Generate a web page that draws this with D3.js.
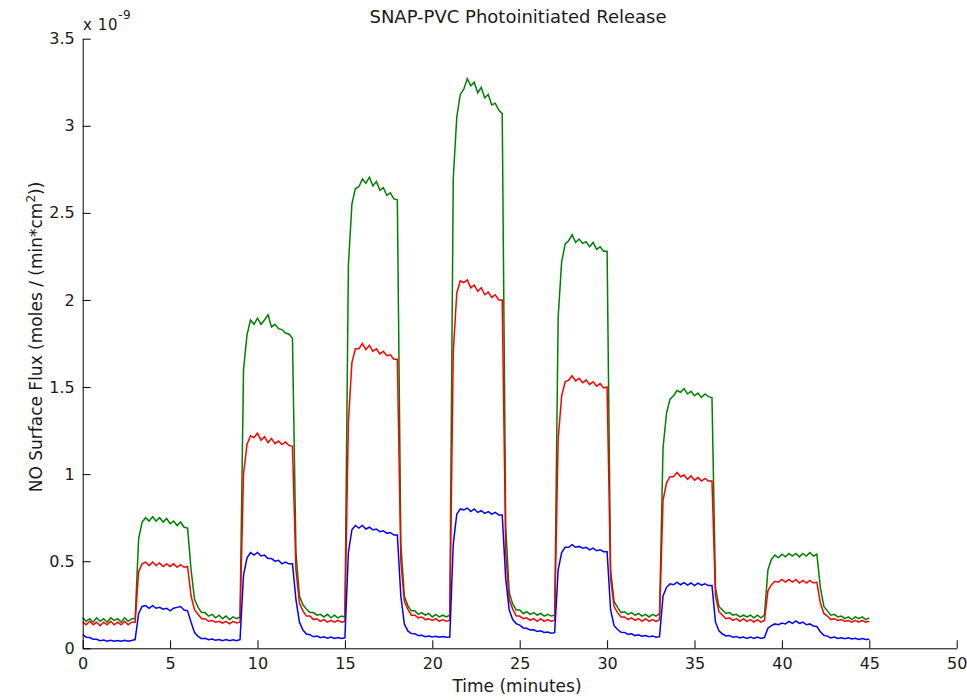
<!DOCTYPE html>
<html>
<head>
<meta charset="utf-8">
<script src="https://cdn.jsdelivr.net/npm/d3@7/dist/d3.min.js"></script>
<style>
  html, body { margin: 0; padding: 0; background: #fff; }
  svg { display: block; }
  text { font-family: "DejaVu Sans", sans-serif; fill: #1a1a1a; }
</style>
</head>
<body>
<svg id="chart" width="967" height="700"></svg>
<script>
// ---- data (flux in units of 1e-9 moles/(min*cm^2)), sampled every 0.2 min from t = 0 ----
const timeStart = 0;
const timeStep = 0.2;

const greenFlux = [
  0.175,0.155,0.17,0.15,0.175,0.155,0.17,0.15,0.175,0.16,0.17,0.15,0.175,0.155,0.17,
  0.17,0.63,0.725,0.75,0.73,0.755,0.73,0.75,0.725,0.745,0.715,0.73,0.705,0.725,0.695,
  0.69,0.45,0.28,0.235,0.205,0.205,0.185,0.195,0.175,0.19,0.17,0.185,0.165,0.18,0.17,
  0.18,1.60,1.80,1.885,1.86,1.895,1.86,1.885,1.915,1.845,1.86,1.835,1.83,1.81,1.805,
  1.78,0.55,0.30,0.25,0.225,0.205,0.205,0.19,0.195,0.18,0.195,0.175,0.19,0.175,0.185,
  0.18,2.20,2.55,2.64,2.65,2.695,2.67,2.705,2.655,2.68,2.63,2.645,2.60,2.615,2.58,
  2.575,0.60,0.30,0.245,0.215,0.215,0.195,0.205,0.19,0.20,0.18,0.195,0.18,0.19,0.18,
  0.19,2.70,3.05,3.18,3.21,3.27,3.23,3.25,3.19,3.22,3.16,3.18,3.12,3.13,3.09,
  3.07,0.70,0.32,0.255,0.22,0.22,0.20,0.21,0.195,0.205,0.19,0.20,0.185,0.195,0.185,
  0.19,1.90,2.22,2.32,2.34,2.375,2.33,2.35,2.325,2.335,2.305,2.33,2.29,2.305,2.28,
  2.28,0.45,0.27,0.235,0.205,0.21,0.195,0.205,0.19,0.20,0.185,0.195,0.18,0.195,0.185,
  0.20,1.15,1.35,1.43,1.45,1.48,1.47,1.49,1.46,1.475,1.45,1.465,1.44,1.46,1.445,
  1.44,0.35,0.24,0.22,0.20,0.205,0.19,0.195,0.18,0.19,0.18,0.19,0.175,0.19,0.175,
  0.19,0.45,0.51,0.535,0.52,0.54,0.525,0.545,0.53,0.545,0.525,0.545,0.53,0.55,0.53,
  0.54,0.35,0.24,0.215,0.19,0.195,0.18,0.185,0.17,0.18,0.165,0.18,0.17,0.18,0.165,
  0.175
];

const redFlux = [
  0.15,0.135,0.155,0.135,0.15,0.13,0.15,0.135,0.155,0.135,0.15,0.135,0.155,0.135,0.15,
  0.15,0.44,0.485,0.495,0.475,0.495,0.475,0.49,0.47,0.485,0.47,0.485,0.465,0.48,0.465,
  0.47,0.30,0.22,0.195,0.17,0.17,0.155,0.16,0.15,0.155,0.145,0.155,0.14,0.155,0.145,
  0.15,1.00,1.17,1.22,1.21,1.235,1.195,1.215,1.18,1.205,1.175,1.19,1.17,1.185,1.165,
  1.16,0.45,0.26,0.215,0.185,0.185,0.165,0.17,0.155,0.165,0.15,0.16,0.15,0.16,0.15,
  0.155,1.30,1.64,1.72,1.72,1.75,1.715,1.74,1.705,1.72,1.69,1.705,1.68,1.685,1.66,
  1.66,0.50,0.27,0.225,0.19,0.19,0.175,0.18,0.165,0.17,0.16,0.17,0.155,0.165,0.155,
  0.16,1.70,2.04,2.11,2.10,2.115,2.07,2.085,2.05,2.07,2.03,2.045,2.015,2.03,2.00,
  2.00,0.55,0.28,0.225,0.185,0.185,0.17,0.175,0.16,0.17,0.155,0.17,0.155,0.165,0.155,
  0.16,1.20,1.45,1.53,1.54,1.565,1.535,1.55,1.525,1.54,1.515,1.53,1.505,1.52,1.495,
  1.50,0.40,0.24,0.205,0.18,0.18,0.165,0.175,0.16,0.17,0.155,0.17,0.155,0.165,0.155,
  0.165,0.85,0.95,0.985,0.985,1.01,0.985,0.995,0.97,0.99,0.965,0.98,0.96,0.975,0.96,
  0.96,0.30,0.21,0.19,0.17,0.175,0.16,0.17,0.155,0.17,0.155,0.165,0.15,0.165,0.15,
  0.16,0.33,0.365,0.385,0.38,0.395,0.38,0.395,0.38,0.395,0.375,0.39,0.375,0.39,0.375,
  0.38,0.26,0.20,0.185,0.165,0.17,0.16,0.165,0.155,0.16,0.15,0.16,0.15,0.16,0.15,
  0.155
];

const blueFlux = [
  0.078,0.064,0.062,0.052,0.052,0.044,0.047,0.04,0.046,0.041,0.045,0.04,0.046,0.041,0.045,
  0.05,0.20,0.24,0.245,0.23,0.245,0.23,0.235,0.225,0.23,0.215,0.23,0.235,0.24,0.22,
  0.215,0.15,0.09,0.068,0.055,0.058,0.049,0.053,0.046,0.051,0.044,0.05,0.043,0.049,0.044,
  0.05,0.42,0.52,0.55,0.535,0.55,0.53,0.535,0.515,0.515,0.50,0.505,0.485,0.495,0.485,
  0.485,0.28,0.15,0.105,0.082,0.078,0.066,0.07,0.061,0.066,0.058,0.064,0.056,0.062,0.057,
  0.06,0.55,0.68,0.705,0.69,0.705,0.685,0.695,0.68,0.685,0.67,0.675,0.66,0.665,0.65,
  0.65,0.30,0.14,0.10,0.085,0.083,0.073,0.075,0.067,0.071,0.065,0.069,0.063,0.068,0.063,
  0.065,0.60,0.77,0.80,0.795,0.805,0.785,0.80,0.78,0.79,0.775,0.785,0.77,0.78,0.765,
  0.765,0.40,0.22,0.165,0.142,0.133,0.117,0.115,0.105,0.106,0.097,0.1,0.091,0.093,0.086,
  0.09,0.45,0.55,0.58,0.58,0.595,0.58,0.585,0.575,0.58,0.565,0.575,0.56,0.565,0.555,
  0.555,0.22,0.13,0.108,0.092,0.091,0.08,0.083,0.073,0.078,0.069,0.073,0.066,0.07,0.064,
  0.067,0.30,0.35,0.37,0.365,0.38,0.365,0.377,0.363,0.375,0.36,0.374,0.362,0.37,0.36,
  0.36,0.15,0.10,0.082,0.071,0.073,0.063,0.068,0.06,0.065,0.057,0.065,0.057,0.064,0.057,
  0.062,0.115,0.13,0.14,0.135,0.145,0.14,0.155,0.143,0.157,0.143,0.15,0.135,0.14,0.128,
  0.125,0.095,0.075,0.07,0.06,0.065,0.056,0.061,0.055,0.06,0.053,0.058,0.051,0.056,0.05,
  0.052
];

const xTicks = [0, 5, 10, 15, 20, 25, 30, 35, 40, 45, 50];
const yTicks = [0, 0.5, 1, 1.5, 2, 2.5, 3, 3.5];
const yTickLabels = ["0", "0.5", "1", "1.5", "2", "2.5", "3", "3.5"];

const seriesList = [
  { name: "green", values: greenFlux, color: "#008000" },
  { name: "red",   values: redFlux,   color: "#ff0000" },
  { name: "blue",  values: blueFlux,  color: "#0000ff" }
];

// ---- layout ----
const svg = d3.select("#chart");
const x = d3.scaleLinear().domain([0, 50]).range([82.7, 956.7]);
const y = d3.scaleLinear().domain([0, 3.5]).range([648.3, 38.7]);

svg.append("rect").attr("width", 967).attr("height", 700).attr("fill", "#fff");

// lines
const line = d3.line()
  .x((d, i) => x(timeStart + i * timeStep))
  .y(d => y(d));

svg.append("g").selectAll("path")
  .data(seriesList)
  .join("path")
  .attr("fill", "none")
  .attr("stroke", d => d.color)
  .attr("stroke-width", 1.5)
  .attr("stroke-linejoin", "miter")
  .attr("d", d => line(d.values));

// axes
const xAxis = d3.axisBottom(x)
  .tickValues(xTicks)
  .tickFormat(d3.format("d"))
  .tickSizeInner(-8)
  .tickSizeOuter(0)
  .tickPadding(9);

const yAxis = d3.axisLeft(y)
  .tickValues(yTicks)
  .tickFormat((d, i) => yTickLabels[i])
  .tickSizeInner(-8)
  .tickSizeOuter(0)
  .tickPadding(8);

const gx = svg.append("g").attr("transform", `translate(0,${y(0)})`).call(xAxis);
const gy = svg.append("g").attr("transform", `translate(${x(0)},0)`).call(yAxis);

[gx, gy].forEach(g => {
  g.select(".domain").attr("stroke", "#000").attr("stroke-width", 1);
  g.selectAll(".tick line").attr("stroke", "#000").attr("stroke-width", 1);
  g.selectAll(".tick text")
    .attr("font-family", "DejaVu Sans, sans-serif")
    .attr("font-size", 16)
    .attr("fill", "#1a1a1a");
});

// exponent label
const expo = svg.append("text")
  .attr("x", 83).attr("y", 30)
  .attr("font-size", 15)
  .attr("letter-spacing", 0.6);
expo.append("tspan").text("x 10");
expo.append("tspan").attr("font-size", 12).attr("dy", -11).text("-9");

// title
svg.append("text")
  .attr("x", 518).attr("y", 23)
  .attr("text-anchor", "middle")
  .attr("font-size", 18)
  .text("SNAP-PVC Photoinitiated Release");

// x label
svg.append("text")
  .attr("x", 517).attr("y", 692)
  .attr("text-anchor", "middle")
  .attr("font-size", 17)
  .text("Time (minutes)");

// y label
const yl = svg.append("text")
  .attr("transform", "translate(42,337) rotate(-90)")
  .attr("text-anchor", "middle")
  .attr("font-size", 17);
yl.append("tspan").text("NO Surface Flux (moles / (min*cm");
yl.append("tspan").attr("font-size", 12).attr("dy", -7).text("2");
yl.append("tspan").attr("dy", 7).text("))");
</script>
</body>
</html>
